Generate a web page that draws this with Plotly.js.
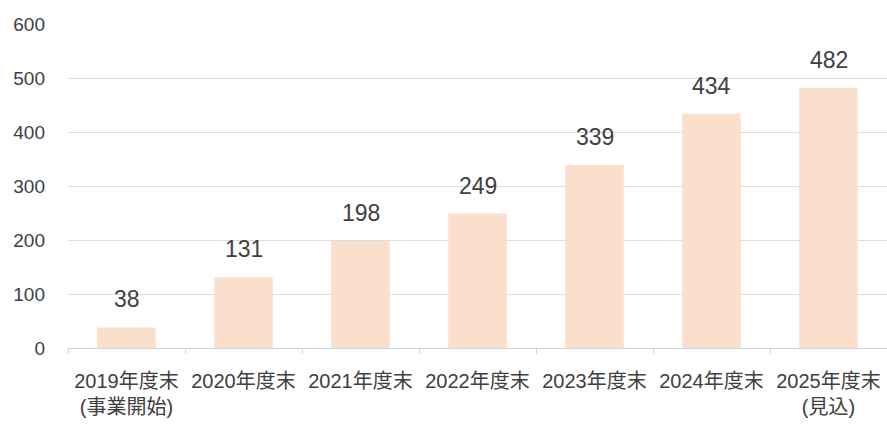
<!DOCTYPE html>
<html>
<head>
<meta charset="utf-8">
<script src="https://cdn.plot.ly/plotly-3.0.1.min.js"></script>
<style>html,body{margin:0;padding:0;background:#fff;}#chart{width:887px;height:428px;}</style>
</head>
<body>
<div id="chart"></div>
<script>
const categories = ["2019年度末", "2020年度末", "2021年度末", "2022年度末", "2023年度末", "2024年度末", "2025年度末"];
const subLabels = ["(事業開始)", "", "", "", "", "", "(見込)"];
const values = [38, 131, 198, 249, 339, 434, 482];
const yTicks = [0, 100, 200, 300, 400, 500, 600];

const FONT = '"Liberation Sans", Arial, "Noto Sans CJK JP", sans-serif';
const TXT = '#404040';

const tickText = categories.map((c, i) => subLabels[i] ? c + '<br>' + subLabels[i] : c);

const annotations = values.map((v, i) => ({
  x: categories[i], y: v, xref: 'x', yref: 'y',
  text: String(v), showarrow: false,
  xanchor: 'center', yanchor: 'middle', yshift: 28,
  font: {family: FONT, size: 23, color: TXT}
}));

const trace = {
  type: 'bar', x: categories, y: values,
  marker: {color: '#FBDFCD', line: {width: 0}},
  width: 0.5, hoverinfo: 'skip'
};

const layout = {
  width: 887, height: 428,
  margin: {l: 68, r: 0, t: 24, b: 80},
  paper_bgcolor: '#ffffff', plot_bgcolor: '#ffffff',
  showlegend: false,
  font: {family: FONT, color: TXT},
  xaxis: {
    type: 'category', tickmode: 'array', tickvals: categories, ticktext: tickText,
    tickson: 'boundaries', ticks: 'outside', ticklen: 5, tickcolor: '#D0D5DA',
    showline: true, linecolor: '#D0D5DA', linewidth: 1,
    showgrid: false, zeroline: false,
    ticklabelstandoff: 15,
    tickfont: {family: FONT, size: 20, color: TXT},
    tickangle: 0, automargin: false
  },
  yaxis: {
    range: [0, 600], tickmode: 'array', tickvals: yTicks,
    ticktext: yTicks.map(String),
    showgrid: true, gridcolor: '#DADEE2', gridwidth: 1,
    zeroline: false, showline: false, ticks: '',
    ticklabelstandoff: 22,
    tickfont: {family: FONT, size: 19, color: TXT},
    automargin: false
  },
  annotations: annotations
};

Plotly.newPlot('chart', [trace], layout, {displayModeBar: false, staticPlot: true});
</script>
</body>
</html>
